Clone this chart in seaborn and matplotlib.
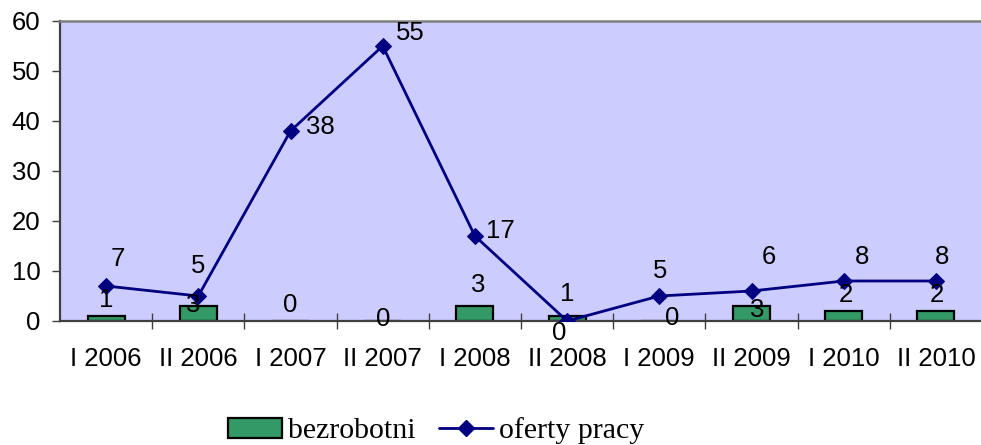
import matplotlib
matplotlib.use('Agg')
import matplotlib.pyplot as plt
from matplotlib.patches import Patch
from matplotlib.lines import Line2D
import numpy as np
import seaborn as sns

# data
periods = ['I 2006', 'II 2006', 'I 2007', 'II 2007', 'I 2008',
           'II 2008', 'I 2009', 'II 2009', 'I 2010', 'II 2010']
bezrobotni = [1, 3, 0, 0, 3, 1, 0, 3, 2, 2]
oferty = [7, 5, 38, 55, 17, 0, 5, 6, 8, 8]

# label nudges in pixels (dx right, dy up), as placed in the original
bar_label_offsets = [(0, 16), (-5, 1), (0, 16), (0, 2), (3, 21),
                     (0, 22), (13, 3), (6, -4), (2, 16), (1, 16)]
line_label_offsets = [(12, 27), (0, 30), (30, 4), (28, 13), (25, 5),
                      (-8, -12), (1, 25), (17, 34), (18, 24), (6, 24)]

sns.set_style('ticks')
plt.rcParams['font.family'] = ['Liberation Sans', 'DejaVu Sans']
plt.rcParams['text.color'] = 'black'

fig = plt.figure(figsize=(9.81, 4.45), dpi=100)
ax = fig.add_axes([60 / 981, 1 - 321 / 445, 922 / 981, 300 / 445])
ax.set_facecolor('#CCCCFF')

# bars
sns.barplot(x=periods, y=bezrobotni, color='#339966', saturation=1,
            edgecolor='black', linewidth=1.6, width=0.4, ax=ax, zorder=2)

# line
x = np.arange(len(periods))
sns.lineplot(x=x, y=oferty, color='#000080', marker='D', markersize=8,
             markeredgecolor='#000080', linewidth=2, ax=ax, zorder=3)

# data labels
for i, v in enumerate(bezrobotni):
    ax.annotate(str(v), (x[i], v), xytext=bar_label_offsets[i],
                textcoords='offset pixels', ha='center', va='center',
                fontsize=18.5, color='black', zorder=4)
for i, v in enumerate(oferty):
    ax.annotate(str(v), (x[i], v), xytext=line_label_offsets[i],
                textcoords='offset pixels', ha='center', va='center',
                fontsize=18.5, color='black', zorder=4, annotation_clip=False)

ax.set_xlim(-0.5, 9.5)
ax.set_ylim(0, 60)
ax.set_yticks(range(0, 61, 10))
ax.set_xticks(x)
ax.set_xticklabels(periods)
ax.set_xticks(np.arange(0.5, 9.5, 1), minor=True)
ax.set_xlabel('')
ax.set_ylabel('')

ax.tick_params(axis='y', which='major', direction='out', length=6,
               width=1, color='#404040', labelsize=18.5, labelcolor='black', pad=8)
ax.tick_params(axis='x', which='major', length=0, labelsize=18.5,
               labelcolor='black', pad=19)
ax.tick_params(axis='x', which='minor', direction='inout', length=11,
               width=1, color='#404040')

for side in ['left', 'bottom']:
    ax.spines[side].set_color('#404040')
    ax.spines[side].set_linewidth(1.6)
for side in ['top', 'right']:
    ax.spines[side].set_visible(True)
    ax.spines[side].set_color('#808080')
    ax.spines[side].set_linewidth(1.8)

# legend
handles = [Patch(facecolor='#339966', edgecolor='black', linewidth=1.6, label='bezrobotni'),
           Line2D([], [], color='#000080', marker='D', markersize=8, linewidth=2,
                  label='oferty pracy')]
fig.legend(handles=handles, loc='center', bbox_to_anchor=(436 / 981, 1 - 431 / 445),
           ncol=2, frameon=False, prop={'family': 'Liberation Serif', 'size': 21.5},
           handlelength=1.8, handleheight=0.7, handletextpad=0.2, columnspacing=0.8)

fig.savefig('out.png', dpi=100)
